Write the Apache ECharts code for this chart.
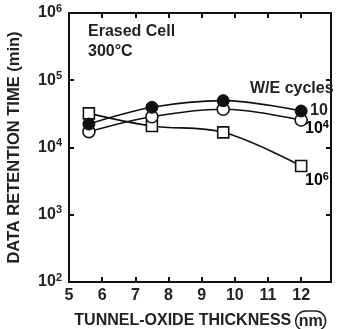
<!DOCTYPE html>
<html><head><meta charset="utf-8">
<script src="https://cdn.jsdelivr.net/npm/echarts@6/dist/echarts.min.js"></script>
<style>html,body{margin:0;padding:0;background:#fff}#c{width:348px;height:329px}</style>
</head><body><div id="c"></div>
<script>
const thickness = [5.6, 7.5, 9.65, 12];
const cycles10 = [22300, 39600, 49700, 34900];
const cycles1e4 = [17200, 28700, 37000, 25600];
const cycles1e6 = [32200, 20900, 16800, 5300];
const xTicks = [5, 6, 7, 8, 9, 10, 11, 12];
const yTickExps = [2, 3, 4, 5, 6];

const FONT = 'Liberation Sans, Arial, sans-serif';
const chart = echarts.init(document.getElementById('c'));
const pair = arr => arr.map((v, i) => [thickness[i], v]);
const supRich = {
  b: {fontSize: 16, fontWeight: 'bold', fontFamily: FONT, color: '#222'},
  s: {fontSize: 11, fontWeight: 'bold', fontFamily: FONT, color: '#222', verticalAlign: 'top', padding: [0,0,9,0]}
};
const lineStyle = {color: '#111', width: 1.6};
chart.setOption({
  animation: false,
  grid: {left: 69, right: 17, top: 13, bottom: 47, show: true, borderColor: '#111', borderWidth: 2,
         containLabel: false, outerBoundsMode: 'none'},
  xAxis: [{
    type: 'value', min: 5, max: 12.9, interval: 1,
    axisLine: {lineStyle: {color: '#111', width: 2}},
    axisTick: {inside: true, length: 5, lineStyle: {color: '#111', width: 2}},
    splitLine: {show: false},
    axisLabel: {fontSize: 16, fontWeight: 'bold', fontFamily: FONT, color: '#222', margin: 6,
      formatter: v => xTicks.includes(v) ? String(v) : ''},
    name: '{t|TUNNEL-OXIDE THICKNESS }{n|nm}', nameLocation: 'middle', nameGap: 29,
    nameTextStyle: {rich: {
      t: {fontSize: 16, fontWeight: 'bold', fontFamily: FONT, color: '#222'},
      n: {fontSize: 16, fontWeight: 'bold', fontFamily: FONT, color: '#222', borderColor: '#222', borderWidth: 1.5, borderRadius: 12, padding: [3,3,1,3]}
    }}
  }, {
    type: 'value', position: 'top', min: 5, max: 12.9, interval: 1,
    axisLine: {show: false}, axisLabel: {show: false}, splitLine: {show: false},
    axisTick: {inside: true, length: 5, lineStyle: {color: '#111', width: 2}}
  }],
  yAxis: [{
    type: 'log', logBase: 10, min: 100, max: 1000000,
    axisLine: {show: true, lineStyle: {color: '#111', width: 2}},
    axisTick: {inside: true, length: 5, lineStyle: {color: '#111', width: 2}},
    splitLine: {show: false}, minorTick: {show: false},
    axisLabel: {margin: 7, formatter: v => '{b|10}{s|' + Math.round(Math.log10(v)) + '}', rich: supRich},
    name: 'DATA RETENTION TIME (min)', nameLocation: 'middle', nameGap: 46, nameRotate: 90,
    nameTextStyle: {fontSize: 16.5, fontWeight: 'bold', fontFamily: FONT, color: '#222'}
  }, {
    type: 'log', logBase: 10, min: 100, max: 1000000, position: 'right',
    axisLine: {show: false}, axisLabel: {show: false}, splitLine: {show: false},
    axisTick: {inside: true, length: 5, lineStyle: {color: '#111', width: 2}}
  }],
  series: [
    {type: 'line', data: pair(cycles1e6), smooth: 0.35, symbol: 'rect', symbolSize: 11,
     lineStyle, itemStyle: {color: '#fff', borderColor: '#111', borderWidth: 1.6}, z: 3},
    {type: 'line', data: pair(cycles1e4), smooth: 0.35, symbol: 'circle', symbolSize: 12,
     lineStyle, itemStyle: {color: '#fff', borderColor: '#111', borderWidth: 1.6}, z: 4},
    {type: 'line', data: pair(cycles10), smooth: 0.35, symbol: 'circle', symbolSize: 12,
     lineStyle, itemStyle: {color: '#111', borderColor: '#111', borderWidth: 1}, z: 5}
  ],
  graphic: [
    {type: 'text', left: 88, top: 24, style: {text: 'Erased Cell', font: 'bold 16px ' + FONT, fill: '#222'}},
    {type: 'text', left: 88, top: 44, style: {text: '300°C', font: 'bold 16px ' + FONT, fill: '#222'}},
    {type: 'text', left: 250, top: 81, style: {text: 'W/E cycles', font: 'bold 16px ' + FONT, fill: '#222'}},
    {type: 'text', left: 310, top: 103, style: {text: '10', font: 'bold 16px ' + FONT, fill: '#222'}},
    {type: 'text', left: 305, top: 119, style: {text: '{b|10}{s|4}', rich: supRich}},
    {type: 'text', left: 305, top: 171, style: {text: '{b|10}{s|6}', rich: supRich}}
  ]
});
</script></body></html>
